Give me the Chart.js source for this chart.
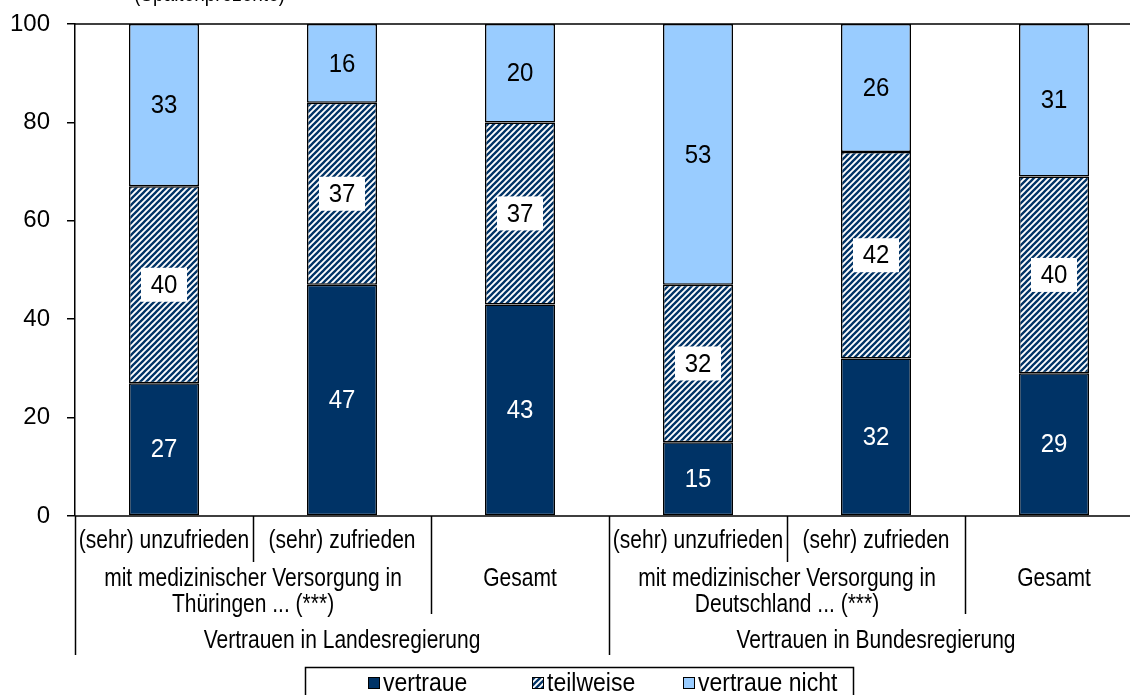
<!DOCTYPE html>
<html>
<head>
<meta charset="utf-8">
<script src="https://cdn.jsdelivr.net/npm/chart.js@4"></script>
<style>
  html, body { margin: 0; padding: 0; overflow: hidden; background: #fff; }
  #wrap { position: relative; width: 1145px; height: 700px; }
</style>
</head>
<body>
<div id="wrap"><canvas id="chart"></canvas></div>
<script>
// Data
const categories = ['(sehr) unzufrieden', '(sehr) zufrieden', '', '(sehr) unzufrieden', '(sehr) zufrieden', ''];
const subGroups = [
    { from: 0, to: 1, lines: ['mit medizinischer Versorgung in', 'Thüringen ... (***)'] },
    { from: 2, to: 2, lines: ['Gesamt'] },
    { from: 3, to: 4, lines: ['mit medizinischer Versorgung in', 'Deutschland ... (***)'] },
    { from: 5, to: 5, lines: ['Gesamt'] }
];
const mainGroups = [
    { from: 0, to: 2, label: 'Vertrauen in Landesregierung' },
    { from: 3, to: 5, label: 'Vertrauen in Bundesregierung' }
];
const vertraue = [27, 47, 43, 15, 32, 29];
const teilweise = [40, 37, 37, 32, 42, 40];
const vertraueNicht = [33, 16, 20, 53, 26, 31];
const seriesNames = ['vertraue', 'teilweise', 'vertraue nicht'];
const yTicks = [0, 20, 40, 60, 80, 100];
const noteText = '(Spaltenprozente)';

const FONT = '"Liberation Sans", Arial, sans-serif';
const NAVY = '#003366';
const LIGHT = '#99CCFF';

// Hatched fill for "teilweise"
function makeHatch() {
    const c = document.createElement('canvas');
    c.width = 6; c.height = 6;
    const g = c.getContext('2d');
    g.fillStyle = '#fff';
    g.fillRect(0, 0, 6, 6);
    g.strokeStyle = NAVY;
    g.lineWidth = 2.3;
    [[-3, 3, 3, -3], [0, 6, 6, 0], [3, 9, 9, 3]].forEach(l => {
        g.beginPath();
        g.moveTo(l[0], l[1]);
        g.lineTo(l[2], l[3]);
        g.stroke();
    });
    return g.createPattern(c, 'repeat');
}
const hatch = makeHatch();
const fills = [NAVY, hatch, LIGHT];
const labelColors = ['#fff', '#000', '#000'];

// text slightly stretched vertically, like the axis texts in the original
function tallText(ctx, text, x, y, sy) {
    ctx.save();
    ctx.translate(x, y);
    ctx.scale(1, sy);
    ctx.fillText(text, 0, 0);
    ctx.restore();
}

// Value labels inside the bars
const valueLabels = {
    id: 'valueLabels',
    afterDatasetsDraw(chart) {
        const ctx = chart.ctx;
        ctx.save();
        ctx.font = '24px ' + FONT;
        ctx.textAlign = 'center';
        ctx.textBaseline = 'middle';
        chart.data.datasets.forEach((ds, i) => {
            const meta = chart.getDatasetMeta(i);
            meta.data.forEach((el, j) => {
                const y = (el.y + el.base) / 2;
                if (i === 1) {
                    ctx.fillStyle = '#fff';
                    ctx.fillRect(el.x - 23, y - 17, 46, 34);
                }
                ctx.fillStyle = labelColors[i];
                tallText(ctx, ds.data[j], el.x, y + 1, 1.08);
            });
        });
        ctx.restore();
    }
};

// Frame, multi-level category axis, legend, note
const extras = {
    id: 'extras',
    afterDraw(chart) {
        const ctx = chart.ctx;
        const area = chart.chartArea;
        const xs = chart.scales.x;
        const n = categories.length;
        const bound = i => {
            if (i <= 0) return area.left;
            if (i >= n) return area.right;
            return (xs.getPixelForValue(i - 1) + xs.getPixelForValue(i)) / 2;
        };
        ctx.save();
        ctx.strokeStyle = '#000';
        ctx.lineWidth = 1.5;

        // plot frame (top, right, bottom)
        ctx.beginPath();
        ctx.moveTo(area.left, area.top);
        ctx.lineTo(area.right, area.top);
        ctx.lineTo(area.right, area.bottom);
        ctx.moveTo(area.left, area.bottom);
        ctx.lineTo(area.right, area.bottom);
        ctx.stroke();

        // separators
        const mainEdges = new Set([0, n]);
        mainGroups.forEach(g => { mainEdges.add(g.from); mainEdges.add(g.to + 1); });
        const subEdges = new Set();
        subGroups.forEach(g => { subEdges.add(g.from); subEdges.add(g.to + 1); });
        for (let i = 0; i <= n; i++) {
            const x = Math.round(bound(i)) + 0.5;
            let yEnd = 562;
            if (mainEdges.has(i)) yEnd = 655;
            else if (subEdges.has(i)) yEnd = 614;
            ctx.beginPath();
            ctx.moveTo(x, area.bottom);
            ctx.lineTo(x, yEnd);
            ctx.stroke();
        }

        // labels
        ctx.fillStyle = '#000';
        ctx.font = '21px ' + FONT;
        ctx.textAlign = 'center';
        ctx.textBaseline = 'middle';
        categories.forEach((c, i) => {
            if (c) tallText(ctx, c, (bound(i) + bound(i + 1)) / 2, 541, 1.25);
        });
        subGroups.forEach(g => {
            const cx = (bound(g.from) + bound(g.to + 1)) / 2;
            g.lines.forEach((t, k) => tallText(ctx, t, cx, 579 + k * 26, 1.25));
        });
        mainGroups.forEach(g => {
            tallText(ctx, g.label, (bound(g.from) + bound(g.to + 1)) / 2, 641, 1.25);
        });

        // legend
        ctx.lineWidth = 1.5;
        ctx.strokeRect(305.5, 667.5, 548, 40);
        const legX = [368, 532, 683];
        ctx.font = '23px ' + FONT;
        ctx.textAlign = 'left';
        seriesNames.forEach((name, i) => {
            ctx.fillStyle = fills[i];
            ctx.fillRect(legX[i], 677, 12, 12);
            ctx.lineWidth = 1;
            ctx.strokeRect(legX[i] + 0.5, 677.5, 11, 11);
            ctx.fillStyle = '#000';
            tallText(ctx, name, legX[i] + 15, 684, 1.1);
        });

        // cut-off note at the top
        ctx.font = '19px ' + FONT;
        ctx.textBaseline = 'alphabetic';
        tallText(ctx, noteText, 134, 1, 1.25);
        ctx.restore();
    }
};

new Chart(document.getElementById('chart'), {
    type: 'bar',
    data: {
        labels: categories,
        datasets: [vertraue, teilweise, vertraueNicht].map((d, i) => ({
            label: seriesNames[i],
            data: d,
            backgroundColor: fills[i],
            borderColor: '#000',
            borderWidth: 1.5,
            borderSkipped: false,
            barPercentage: 1,
            categoryPercentage: 70 / 178
        }))
    },
    options: {
        responsive: true,
        maintainAspectRatio: false,
        animation: false,
        layout: { padding: { top: 24, bottom: 184, right: 2, left: 0 } },
        plugins: {
            legend: { display: false },
            tooltip: { enabled: false }
        },
        scales: {
            x: {
                stacked: true,
                display: false
            },
            y: {
                stacked: true,
                min: 0,
                max: 100,
                afterBuildTicks: scale => { scale.ticks = yTicks.map(v => ({ value: v })); },
                afterFit: scale => {
                    scale.width = 75;
                    scale.paddingTop = 0;
                    scale.paddingBottom = 0;
                },
                ticks: {
                    color: '#000',
                    font: { family: FONT, size: 24 },
                    padding: 17
                },
                grid: {
                    drawOnChartArea: false,
                    tickLength: 8,
                    color: '#000',
                    lineWidth: 1.5
                },
                border: { color: '#000', width: 1.5 }
            }
        }
    },
    plugins: [valueLabels, extras]
});
</script>
</body>
</html>
